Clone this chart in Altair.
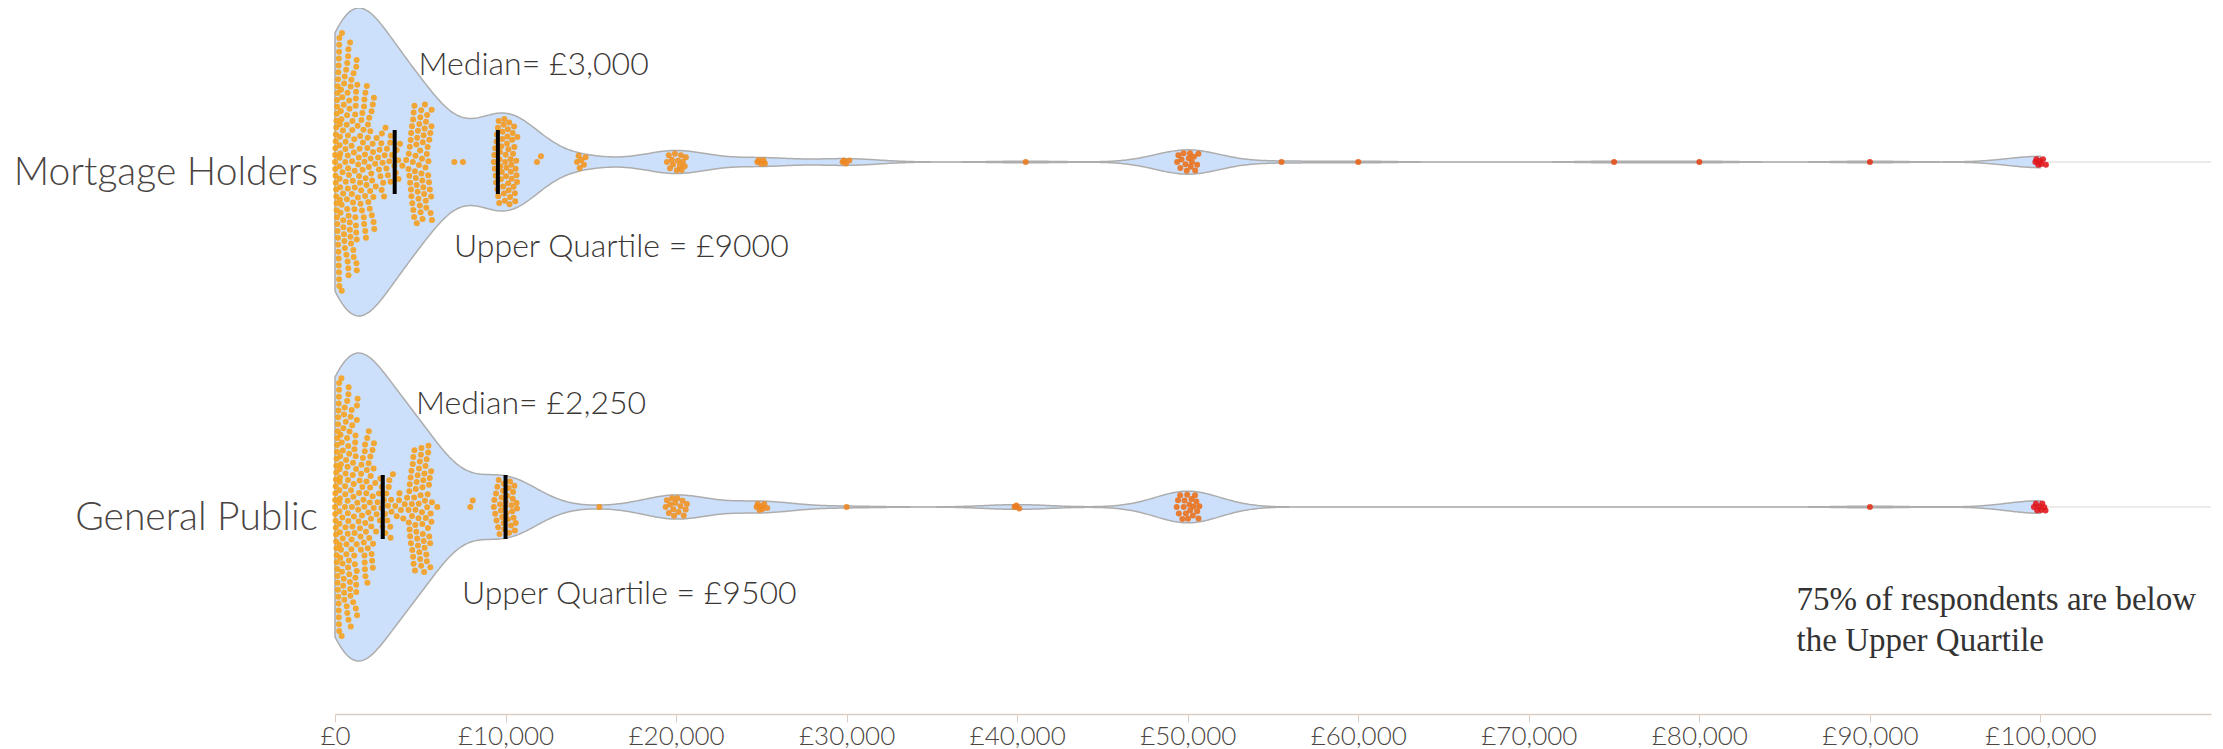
import altair as alt
import numpy as np
import pandas as pd

# ---------------- data ----------------
groups = ["Mortgage Holders", "General Public"]

mh_values = [0, 500, 1000, 1500, 2000, 2500, 3000, 3500, 4000, 5000, 7000, 7500,
             10000, 12000, 14500, 20000, 25000, 30000, 40500, 50000, 55500, 60000,
             75000, 80000, 90000, 100000]
mh_counts = [38, 42, 40, 26, 26, 12, 12, 6, 4, 62, 1, 1,
             56, 2, 6, 14, 5, 4, 1, 15, 1, 1,
             1, 1, 1, 7]

gp_values = [0, 500, 1000, 1500, 2000, 2500, 3000, 3500, 4000, 5000, 6000, 8000,
             10000, 15500, 20000, 25000, 30000, 40000, 50000, 90000, 100000]
gp_counts = [40, 44, 42, 24, 28, 10, 12, 6, 5, 66, 1, 2,
             36, 1, 15, 7, 1, 3, 20, 1, 8]

bar_median = [3500, 2800]
bar_upper_quartile = [9550, 10000]
median_text = ["Median= £3,000", "Median= £2,250"]
uq_text = ["Upper Quartile = £9000", "Upper Quartile = £9500"]
note_lines = ["75% of respondents are below", "the Upper Quartile"]
tick_values = list(range(0, 100001, 10000))

# ---------------- layout ----------------
W, H = 1876, 706
XMAX = 110000
centers = [154, 499]
MAXHALF = 154
BW = 1900
PX = W / XMAX
DOT_GAP = 6.9  # beeswarm collision distance in px

xscale = alt.Scale(domain=[0, XMAX], nice=False, zero=False)
yscale = alt.Scale(domain=[0, H], reverse=True, nice=False, zero=False)

series = [(mh_values, mh_counts), (gp_values, gp_counts)]
grid = np.arange(0, 100001, 100)


def beeswarm(xs, limits, d):
    """place points at fixed x (px); offset in y to avoid overlap, inside +-limit"""
    order = np.argsort(xs, kind="stable")
    px_, py_ = np.empty(0), np.empty(0)
    ys = np.zeros(len(xs))
    for idx in order:
        x, lim = xs[idx], limits[idx]
        near = np.abs(px_ - x) < d
        nx, ny = px_[near], py_[near]
        chosen = None
        if len(nx) == 0:
            chosen = 0.0
        else:
            h = np.sqrt(np.maximum(d * d - (nx - x) ** 2, 0))
            cands = np.concatenate([[0.0], ny + h, ny - h])
            cands = cands[np.abs(cands) <= lim]
            cands = np.array(sorted(cands, key=lambda t: (abs(t), t)))
            for y in cands:
                if np.all((nx - x) ** 2 + (ny - y) ** 2 >= d * d - 1e-6):
                    chosen = float(y)
                    break
            if chosen is None:
                yg = np.linspace(-lim, lim, 61)
                md = np.min((nx[None, :] - x) ** 2 + (ny[None, :] - yg[:, None]) ** 2, axis=1)
                chosen = float(yg[np.argmax(md)])
        ys[idx] = chosen
        px_ = np.append(px_, x)
        py_ = np.append(py_, chosen)
    return ys


violin_rows, point_rows = [], []
a1 = 0.6180339887498949
for g, (vals, cnts), c in zip(groups, series, centers):
    pts = np.repeat(np.array(vals, float), cnts)

    def dens(x):
        x = np.atleast_1d(np.asarray(x, float))
        return np.exp(-0.5 * ((x[:, None] - pts[None, :]) / BW) ** 2).sum(axis=1)

    d = dens(grid)
    K = MAXHALF / d.max()
    for xv, dv in zip(grid, d):
        violin_rows.append({"group": g, "value": float(xv),
                            "lo": c - dv * K, "hi": c + dv * K})
    xs_px, vals_out = [], []
    k = 0
    for v, n in zip(vals, cnts):
        if v < 5000:
            wx = 5.0
        elif n == 1:
            wx = 0.0
        else:
            wx = min(12.0, 2 + 0.6 * n)
        for i in range(n):
            u = 0.5 if n == 1 else (0.5 + a1 * (i + k)) % 1.0
            dx = (2 * u - 1) * wx
            if v == 0:
                dx = abs(dx)
            xs_px.append(v * PX + dx)
            vals_out.append(v)
        k += n + 3
    xs_px = np.array(xs_px)
    lims = np.maximum(0.93 * dens(np.clip(xs_px / PX, 0, 100000)) * K - 2.5, 1.5)
    ys = beeswarm(xs_px, lims, DOT_GAP)
    for x, y, v in zip(xs_px, ys, vals_out):
        point_rows.append({"group": g, "value": float(v),
                           "xpos": x / PX, "ypos": c + y})

violin_df = pd.DataFrame(violin_rows)
points_df = pd.DataFrame(point_rows)

center_df = pd.DataFrame({"group": groups, "c": centers, "x0": [0, 0], "x1": [XMAX, XMAX],
                          "lab_y": [c + 23 for c in centers]})
bars_df = pd.DataFrame({
    "x": bar_median + bar_upper_quartile,
    "y0": [c - 32 for c in centers] * 2,
    "y1": [c + 32 for c in centers] * 2,
})
ann_df = pd.DataFrame({
    "x": [4900, 4750, 6980, 7440],
    "y": [56.5, 396, 239, 586],
    "text": median_text + uq_text,
})
note_df = pd.DataFrame({"x": [85700], "y": [602], "text": [note_lines]})

axis = alt.Axis(values=tick_values, labelExpr="'£' + format(datum.value, ',')",
                domainColor="#d9cdc4", tickColor="#d9cdc4", domainWidth=1.5,
                tickSize=8, tickWidth=1, labelFontSize=26, labelFont="Lato",
                labelFontWeight=300,
                labelColor="#4a4543", labelPadding=1, grid=False, title=None,
                labelFlush=False)

centerline = alt.Chart(center_df).mark_rule(color="#ddd5cf", strokeWidth=1.2).encode(
    x=alt.X("x0:Q", scale=xscale, axis=axis), x2="x1:Q",
    y=alt.Y("c:Q", scale=yscale, axis=None))

violin = alt.Chart(violin_df).mark_area(
    fill="#cce0fb", stroke="#adadad", strokeWidth=1.5, fillOpacity=1).encode(
    x=alt.X("value:Q", scale=xscale, axis=axis),
    y=alt.Y("lo:Q", scale=yscale, axis=None), y2="hi:Q",
    detail="group:N")

points = alt.Chart(points_df).mark_circle(size=36, opacity=0.88).encode(
    x=alt.X("xpos:Q", scale=xscale, axis=axis),
    y=alt.Y("ypos:Q", scale=yscale, axis=None),
    color=alt.Color("value:Q", legend=None,
                    scale=alt.Scale(domain=[0, 30000, 100000],
                                    range=["#f7a017", "#ee861f", "#e0161b"])))

bars = alt.Chart(bars_df).mark_rule(color="black", strokeWidth=4).encode(
    x=alt.X("x:Q", scale=xscale, axis=axis),
    y=alt.Y("y0:Q", scale=yscale, axis=None), y2="y1:Q")

ann = alt.Chart(ann_df).mark_text(align="left", baseline="middle", font="Lato",
                                  fontWeight=300,
                                  fontSize=32, color="#3b3735").encode(
    x=alt.X("x:Q", scale=xscale, axis=axis),
    y=alt.Y("y:Q", scale=yscale, axis=None), text="text:N")

note = alt.Chart(note_df).mark_text(align="left", baseline="alphabetic",
                                    font="Liberation Serif", fontSize=33,
                                    lineHeight=41, color="#333333").encode(
    x=alt.X("x:Q", scale=xscale, axis=axis),
    y=alt.Y("y:Q", scale=yscale, axis=None), text="text")

cat_labels = alt.Chart(center_df).mark_text(align="right", baseline="alphabetic",
                                            font="Lato", fontSize=39, fontWeight=300,
                                            color="#4a4543").encode(
    x=alt.value(-17),
    y=alt.Y("lab_y:Q", scale=yscale, axis=None), text="group:N")

chart = alt.layer(centerline, violin, points, bars, ann, note, cat_labels).properties(
    width=W, height=H,
    autosize=alt.AutoSizeParams(type="none"),
    padding={"left": 327, "top": 0, "right": 4, "bottom": 38},
).configure_view(stroke=None)

chart.save("out.html", embed_options={"renderer": "svg", "actions": False})
